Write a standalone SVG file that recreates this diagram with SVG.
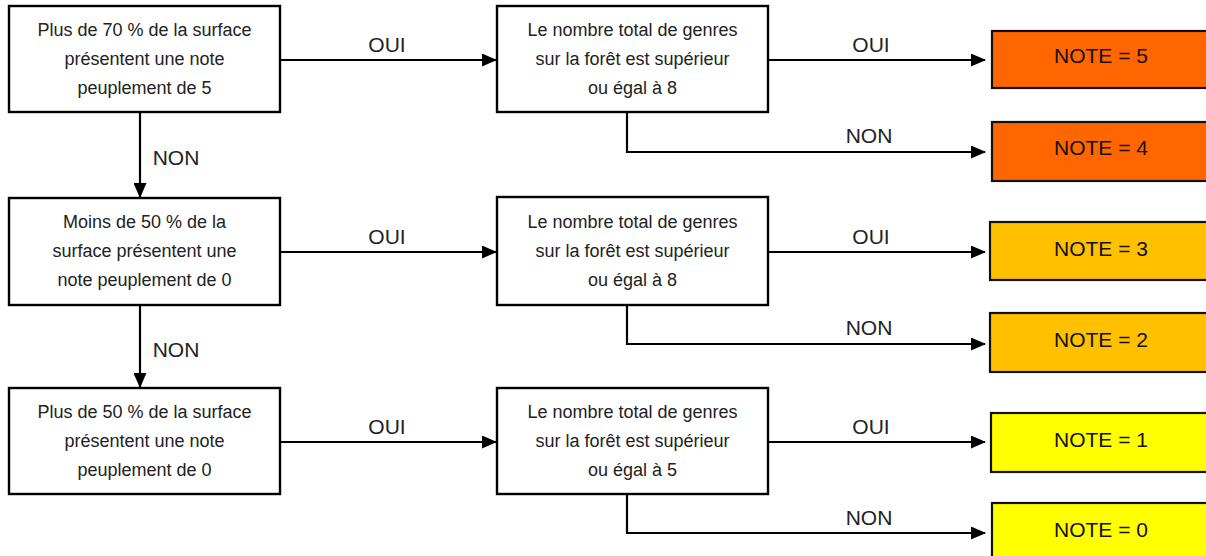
<svg xmlns="http://www.w3.org/2000/svg" width="1206" height="556" viewBox="0 0 1206 556">
<style>
.box{fill:#fff;stroke:#000;stroke-width:2.4}
.note{stroke:#111;stroke-width:2.2}
.o{fill:#FF6600}.a{fill:#FFC000}.y{fill:#FFFF00}
.t{font-family:"Liberation Sans",Arial,sans-serif;font-size:18px;fill:#222;text-anchor:middle}
.n{font-family:"Liberation Sans",Arial,sans-serif;font-size:21px;fill:#111;text-anchor:middle}
.l{font-family:"Liberation Sans",Arial,sans-serif;font-size:21px;fill:#222;text-anchor:middle}
.c{fill:none;stroke:#000;stroke-width:2.2}
</style>
<defs>
<marker id="ah" markerWidth="15" markerHeight="13" refX="14" refY="6.5" orient="auto" markerUnits="userSpaceOnUse">
<path d="M0,0 L15,6.5 L0,13 Z" fill="#000"/>
</marker>
</defs>
<rect width="1206" height="556" fill="#fff"/>
<g id="connectors">
<path class="c" d="M140,113 V197" marker-end="url(#ah)"/>
<path class="c" d="M140,305 V387" marker-end="url(#ah)"/>
<path class="c" d="M280,60 H496" marker-end="url(#ah)"/>
<path class="c" d="M280,252 H496" marker-end="url(#ah)"/>
<path class="c" d="M280,442 H496" marker-end="url(#ah)"/>
<path class="c" d="M768,60 H985" marker-end="url(#ah)"/>
<path class="c" d="M768,252 H985" marker-end="url(#ah)"/>
<path class="c" d="M768,442 H985" marker-end="url(#ah)"/>
<path class="c" d="M627,112 V152 H985" marker-end="url(#ah)"/>
<path class="c" d="M627,305 V344 H985" marker-end="url(#ah)"/>
<path class="c" d="M627,494 V533 H985" marker-end="url(#ah)"/>
<text class="l" x="176" y="165">NON</text>
<text class="l" x="176" y="357">NON</text>
<text class="l" x="387" y="52">OUI</text>
<text class="l" x="387" y="244">OUI</text>
<text class="l" x="387" y="434">OUI</text>
<text class="l" x="871" y="52">OUI</text>
<text class="l" x="871" y="244">OUI</text>
<text class="l" x="871" y="434">OUI</text>
<text class="l" x="869" y="143">NON</text>
<text class="l" x="869" y="335">NON</text>
<text class="l" x="869" y="525">NON</text>
</g>
<g id="q1">
<rect class="box" x="9" y="6" width="271" height="106"/>
<text class="t" x="144.5" y="36">Plus de 70 % de la surface</text>
<text class="t" x="144.5" y="65">présentent une note</text>
<text class="t" x="144.5" y="94">peuplement de 5</text>
</g>
<g id="q2">
<rect class="box" x="9" y="198" width="271" height="107"/>
<text class="t" x="144.5" y="228">Moins de 50 % de la</text>
<text class="t" x="144.5" y="257">surface présentent une</text>
<text class="t" x="144.5" y="286">note peuplement de 0</text>
</g>
<g id="q3">
<rect class="box" x="9" y="388" width="271" height="106"/>
<text class="t" x="144.5" y="418">Plus de 50 % de la surface</text>
<text class="t" x="144.5" y="447">présentent une note</text>
<text class="t" x="144.5" y="476">peuplement de 0</text>
</g>
<g id="g1">
<rect class="box" x="497" y="6" width="271" height="106"/>
<text class="t" x="632.5" y="36">Le nombre total de genres</text>
<text class="t" x="632.5" y="65">sur la forêt est supérieur</text>
<text class="t" x="632.5" y="94">ou égal à 8</text>
</g>
<g id="g2">
<rect class="box" x="497" y="197" width="271" height="108"/>
<text class="t" x="632.5" y="228">Le nombre total de genres</text>
<text class="t" x="632.5" y="257">sur la forêt est supérieur</text>
<text class="t" x="632.5" y="286">ou égal à 8</text>
</g>
<g id="g3">
<rect class="box" x="497" y="388" width="271" height="106"/>
<text class="t" x="632.5" y="418">Le nombre total de genres</text>
<text class="t" x="632.5" y="447">sur la forêt est supérieur</text>
<text class="t" x="632.5" y="476">ou égal à 5</text>
</g>
<g id="n5"><rect class="note o" x="992" y="31" width="220" height="57"/><text class="n" x="1101" y="63">NOTE = 5</text></g>
<g id="n4"><rect class="note o" x="992" y="122" width="220" height="59"/><text class="n" x="1101" y="155">NOTE = 4</text></g>
<g id="n3"><rect class="note a" x="990" y="222" width="222" height="58"/><text class="n" x="1101" y="256">NOTE = 3</text></g>
<g id="n2"><rect class="note a" x="990" y="313" width="222" height="59"/><text class="n" x="1101" y="347">NOTE = 2</text></g>
<g id="n1"><rect class="note y" x="991" y="413" width="221" height="59"/><text class="n" x="1101" y="447">NOTE = 1</text></g>
<g id="n0"><rect class="note y" x="992" y="503" width="220" height="60"/><text class="n" x="1101" y="537">NOTE = 0</text></g>
</svg>
